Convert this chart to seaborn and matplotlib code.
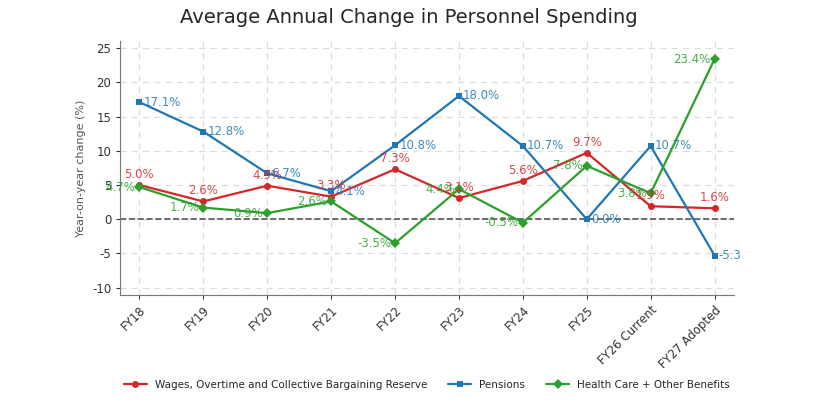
import pandas as pd
import matplotlib.pyplot as plt
import seaborn as sns

years = ['FY18', 'FY19', 'FY20', 'FY21', 'FY22', 'FY23', 'FY24', 'FY25', 'FY26 Current', 'FY27 Adopted']
wages = [5.0, 2.6, 4.9, 3.3, 7.3, 3.1, 5.6, 9.7, 1.9, 1.6]
pensions = [17.1, 12.8, 6.7, 4.1, 10.8, 18.0, 10.7, 0.0, 10.7, -5.3]
health = [4.7, 1.7, 0.9, 2.6, -3.5, 4.4, -0.5, 7.8, 3.8, 23.4]

series = ['Wages, Overtime and Collective Bargaining Reserve', 'Pensions', 'Health Care + Other Benefits']
colors = ['#d62728', '#1f77b4', '#2ca02c']
markers = ['o', 's', 'D']

df = pd.DataFrame({'year': years * 3,
                   'value': wages + pensions + health,
                   'series': [series[0]] * 10 + [series[1]] * 10 + [series[2]] * 10})

sns.set_style('whitegrid')
plt.rcParams['axes.unicode_minus'] = False
fig = plt.figure(figsize=(8.18, 4.12), dpi=100)
ax = fig.add_axes([0.147, 0.285, 0.75, 0.615])
sns.lineplot(data=df, x='year', y='value', hue='series', style='series', palette=colors,
             markers=markers, dashes=False, markersize=5, markeredgewidth=0, linewidth=1.6,
             sort=False, ax=ax)

ax.grid(True, linestyle=(0, (5, 4)), color='#dddddd', linewidth=0.9)
ax.axhline(0, color='#555555', linestyle='--', linewidth=1.2, zorder=1)
for s in ['top', 'right']:
    ax.spines[s].set_visible(False)
ax.spines['left'].set_color('#777777')
ax.spines['bottom'].set_color('#777777')

for i, y in enumerate(wages):
    ax.annotate(f'{y:.1f}%', (i, y), xytext=(0, 3), textcoords='offset points',
                ha='center', va='bottom', color=colors[0], fontsize=8.5, alpha=0.85)
for i, y in enumerate(pensions):
    t = f'{y:.1f}%' if i < 9 else f'{y:.1f}'
    ax.annotate(t, (i, y), xytext=(3, 0), textcoords='offset points',
                ha='left', va='center', color=colors[1], fontsize=8.5, alpha=0.85)
for i, y in enumerate(health):
    ax.annotate(f'{y:.1f}%', (i, y), xytext=(-3, 0), textcoords='offset points',
                ha='right', va='center', color=colors[2], fontsize=8.5, alpha=0.85)

ax.set_ylim(-11, 26)
ax.set_xlim(-0.3, 9.3)
ax.set_yticks(range(-10, 30, 5))
ax.tick_params(axis='y', labelsize=8.5, colors='#333333', left=True, length=3)
ax.tick_params(axis='x', labelsize=8.5, colors='#333333', rotation=45, bottom=True, length=3)
for lab in ax.get_xticklabels():
    lab.set_ha('right')
    lab.set_rotation_mode('anchor')
ax.set_xlabel('')
ax.set_ylabel('Year-on-year change (%)', fontsize=8, color='#555555')

fig.suptitle('Average Annual Change in Personnel Spending', fontsize=14, y=0.98)
ax.legend(loc='upper center', bbox_to_anchor=(0.5, -0.3), ncol=3, frameon=False,
          fontsize=7.5, handlelength=2.2)

fig.savefig('out.png', dpi=100)
plt.close()
